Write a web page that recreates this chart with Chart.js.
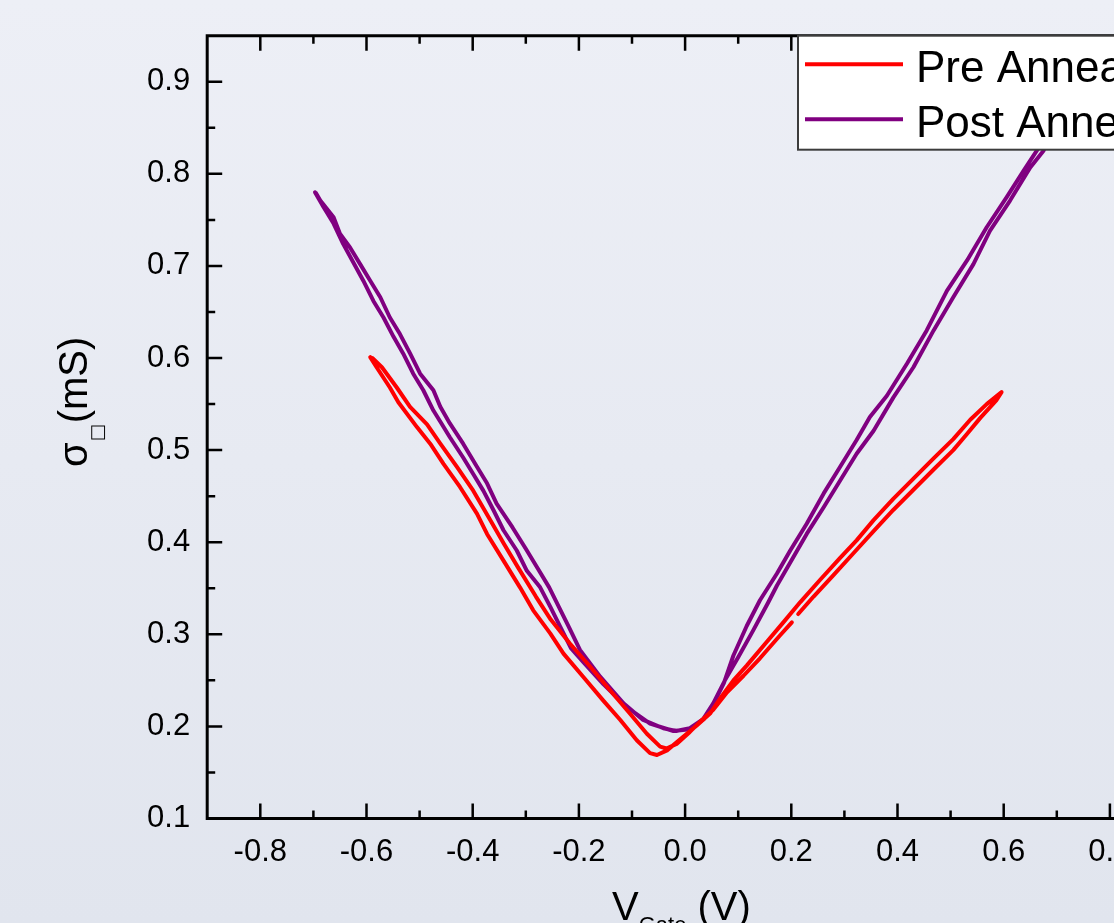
<!DOCTYPE html>
<html><head><meta charset="utf-8">
<script src="https://cdn.jsdelivr.net/npm/chart.js@4.4.1/dist/chart.umd.min.js"></script>
<style>
html,body{margin:0;padding:0;overflow:hidden;width:1114px;height:923px;}
body{background:linear-gradient(to bottom,#edeff6 0%,#e1e5ee 100%);}
#c{position:absolute;left:0;top:0;}
</style></head><body>
<canvas id="c" width="1300" height="1000"></canvas>
<script>
const xTicks = [-0.8,-0.6,-0.4,-0.2,0.0,0.2,0.4,0.6,0.8];
const xMinorTicks = [-0.7,-0.5,-0.3,-0.1,0.1,0.3,0.5,0.7];
const yTicks = [0.1,0.2,0.3,0.4,0.5,0.6,0.7,0.8,0.9];
const yMinorTicks = [0.15,0.25,0.35,0.45,0.55,0.65,0.75,0.85];
const seriesLabels = ['Pre Annealing','Post Annealing'];
const seriesColors = ['#ff0000','#800080'];

const preX = [-0.593,-0.581,-0.556,-0.540,-0.505,-0.480,-0.455,-0.424,-0.392,-0.373,-0.342,-0.311,-0.286,-0.254,-0.229,-0.192,-0.154,-0.122,-0.091,-0.066,-0.053,-0.034,-0.003,0.022,0.047,
  0.068,0.091,0.116,0.154,0.185,0.217,0.254,0.292,0.323,0.355,0.392,0.430,0.468,0.505,0.537,0.568,0.596,
  0.586,0.556,0.530,0.505,0.468,0.430,0.392,0.355,0.317,0.279,0.242,0.213,0.207,0.201,0.179,0.141,0.110,0.079,0.053,0.028,0.009,-0.016,-0.035,-0.047,
  -0.072,-0.104,-0.141,-0.179,-0.217,-0.253,-0.281,-0.315,-0.341,-0.367,-0.399,-0.430,-0.461,-0.486,-0.518,-0.543,-0.571,-0.589];
const preY = [0.601,0.590,0.568,0.552,0.525,0.507,0.485,0.460,0.431,0.409,0.380,0.351,0.326,0.301,0.279,0.254,0.228,0.207,0.185,0.171,0.169,0.174,0.189,0.201,0.214,
  0.232,0.250,0.266,0.292,0.313,0.335,0.359,0.383,0.402,0.424,0.447,0.469,0.491,0.512,0.533,0.550,0.563,
  0.554,0.535,0.517,0.500,0.479,0.457,0.435,0.412,0.388,0.364,0.341,0.322,null,0.313,0.299,0.274,0.255,0.237,0.218,0.205,0.194,0.181,0.176,0.178,
  0.192,0.214,0.239,0.265,0.290,0.316,0.341,0.373,0.398,0.424,0.456,0.482,0.507,0.528,0.547,0.568,0.590,0.600];

const postX = [-0.697,-0.681,-0.662,-0.644,-0.625,-0.606,-0.587,-0.568,-0.549,-0.531,-0.512,-0.493,-0.474,-0.460,-0.443,-0.418,-0.399,-0.380,-0.361,-0.342,-0.317,-0.298,-0.273,-0.254,-0.235,-0.215,-0.192,-0.154,-0.110,-0.066,-0.022,0.009,0.035,0.053,
  0.073,0.091,0.116,0.141,0.173,0.198,0.229,0.261,0.292,0.323,0.348,0.380,0.418,0.455,0.493,0.531,0.568,0.606,0.637,0.662,0.700,
  0.687,0.675,0.650,0.612,0.574,0.543,0.505,0.468,0.430,0.392,0.355,0.323,0.292,0.261,0.229,0.204,0.173,0.156,0.128,0.100,0.075,0.053,0.034,0.009,-0.017,
  -0.041,-0.079,-0.116,-0.160,-0.198,-0.219,-0.238,-0.256,-0.278,-0.300,-0.325,-0.355,-0.373,-0.392,-0.418,-0.443,-0.461,-0.474,-0.499,-0.518,-0.537,-0.556,-0.574,-0.593,-0.612,-0.631,-0.650,-0.662,-0.687,-0.695];
const postY = [0.780,0.764,0.746,0.724,0.704,0.684,0.662,0.644,0.623,0.605,0.583,0.565,0.543,0.530,0.514,0.492,0.474,0.456,0.435,0.413,0.391,0.369,0.351,0.330,0.308,0.285,0.270,0.246,0.221,0.203,0.195,0.197,0.208,0.224,
  0.247,0.277,0.309,0.337,0.366,0.391,0.420,0.453,0.482,0.511,0.536,0.559,0.594,0.630,0.673,0.706,0.742,0.775,0.803,0.825,0.859,
  0.841,0.825,0.807,0.771,0.738,0.702,0.666,0.630,0.590,0.557,0.521,0.496,0.467,0.438,0.409,0.384,0.353,0.334,0.304,0.275,0.250,0.225,0.208,0.198,0.195,
  0.198,0.207,0.225,0.254,0.283,0.308,0.330,0.351,0.372,0.393,0.416,0.442,0.464,0.482,0.507,0.529,0.547,0.565,0.583,0.605,0.626,0.644,0.666,0.684,0.702,0.720,0.735,0.753,0.771,0.779];

const FONT = "'Liberation Sans', Arial, Helvetica, sans-serif";
Chart.defaults.font.family = FONT;

const toPts = (xs, ys) => xs.map((x, i) => ({x: x, y: ys[i]}));

const framePlugin = {
  id: 'frame',
  afterDatasetsDraw(chart) {
    const {ctx, chartArea: a, scales} = chart;
    const sx = scales.x, sy = scales.y;
    ctx.save();
    ctx.strokeStyle = '#000';
    ctx.lineWidth = 3;
    ctx.lineJoin = 'miter';
    ctx.beginPath();
    ctx.moveTo(a.right, a.top); ctx.lineTo(a.left, a.top); ctx.lineTo(a.left, a.bottom);
    ctx.lineTo(a.right, a.bottom); ctx.closePath();
    ctx.stroke();
    ctx.lineWidth = 2.5;
    ctx.beginPath();
    const xt = (vals, len) => vals.forEach(v => {
      const p = sx.getPixelForValue(v);
      ctx.moveTo(p, a.bottom); ctx.lineTo(p, a.bottom - len);
      ctx.moveTo(p, a.top); ctx.lineTo(p, a.top + len);
    });
    const yt = (vals, len) => vals.forEach(v => {
      const p = sy.getPixelForValue(v);
      ctx.moveTo(a.left, p); ctx.lineTo(a.left + len, p);
      ctx.moveTo(a.right, p); ctx.lineTo(a.right - len, p);
    });
    xt(xTicks, 15); xt(xMinorTicks, 8);
    yt(yTicks, 15); yt(yMinorTicks, 8);
    ctx.stroke();
    ctx.restore();
  },
  afterDraw(chart) {
    const {ctx} = chart;
    ctx.save();
    // legend
    const bx = 798, by = 35.7, bw = 500, bh = 114;
    ctx.fillStyle = '#ffffff';
    ctx.fillRect(bx, by, bw, bh);
    ctx.strokeStyle = '#3c3c3c';
    ctx.lineWidth = 2;
    ctx.strokeRect(bx, by, bw, bh);
    chart.data.datasets.forEach((ds, i) => {
      const ly = 64.3 + i * 55;
      ctx.strokeStyle = ds.borderColor;
      ctx.lineWidth = 4;
      ctx.beginPath(); ctx.moveTo(805, ly); ctx.lineTo(903, ly); ctx.stroke();
      ctx.fillStyle = '#000';
      ctx.font = '44px ' + FONT;
      ctx.textBaseline = 'alphabetic';
      ctx.textAlign = 'left';
      ctx.fillText(ds.label, 916, 82 + i * 55);
    });
    // x title
    ctx.fillStyle = '#000';
    ctx.textBaseline = 'alphabetic';
    ctx.textAlign = 'left';
    let x0 = 612, base = 920;
    ctx.font = '40px ' + FONT;
    ctx.fillText('V', x0, base);
    x0 += ctx.measureText('V').width;
    ctx.font = '22px ' + FONT;
    ctx.fillText('Gate', x0, base + 12);
    x0 += ctx.measureText('Gate').width;
    ctx.font = '40px ' + FONT;
    ctx.fillText(' (V)', x0, base);
    // y title
    ctx.save();
    ctx.translate(87, 467);
    ctx.rotate(-Math.PI / 2);
    let t = 0;
    ctx.font = '40px ' + FONT;
    ctx.fillText('σ', t, 0);
    t += ctx.measureText('σ').width;
    ctx.font = "18px 'DejaVu Sans', sans-serif";
    ctx.fillText('□', t + 1, 16);
    t += ctx.measureText('□').width + 2;
    ctx.font = '40px ' + FONT;
    ctx.fillText('(mS)', t, 0);
    ctx.restore();
    ctx.restore();
  }
};

new Chart(document.getElementById('c'), {
  type: 'scatter',
  data: {
    datasets: [
      {label: seriesLabels[0], data: toPts(preX, preY), showLine: true, borderColor: seriesColors[0], backgroundColor: seriesColors[0],
       borderWidth: 4, pointRadius: 0, tension: 0, spanGaps: false, borderJoinStyle: 'round', borderCapStyle: 'round'},
      {label: seriesLabels[1], data: toPts(postX, postY), showLine: true, borderColor: seriesColors[1], backgroundColor: seriesColors[1],
       borderWidth: 4, pointRadius: 0, tension: 0, spanGaps: false, borderJoinStyle: 'round', borderCapStyle: 'round'}
    ]
  },
  options: {
    responsive: false,
    animation: false,
    layout: {padding: {left: 0, top: 35.7, right: 137, bottom: 0}},
    plugins: {legend: {display: false}, tooltip: {enabled: false}},
    scales: {
      x: {
        type: 'linear', position: 'bottom', min: -0.9, max: 0.9,
        grid: {display: false, drawTicks: false}, border: {display: false},
        afterBuildTicks: s => { s.ticks = xTicks.map(v => ({value: v})); },
        afterFit: s => { s.height = 1000 - 818.5; },
        ticks: {font: {size: 31}, color: '#000', padding: 15, maxRotation: 0, minRotation: 0, autoSkip: false,
                callback: v => Number(v).toFixed(1)}
      },
      y: {
        type: 'linear', position: 'left', min: 0.1, max: 0.95,
        grid: {display: false, drawTicks: false}, border: {display: false},
        afterBuildTicks: s => { s.ticks = yTicks.map(v => ({value: v})); },
        afterFit: s => { s.width = 207.2; },
        ticks: {font: {size: 31}, color: '#000', padding: 17, autoSkip: false,
                callback: v => Number(v).toFixed(1)}
      }
    }
  },
  plugins: [framePlugin]
});
</script>
</body></html>
